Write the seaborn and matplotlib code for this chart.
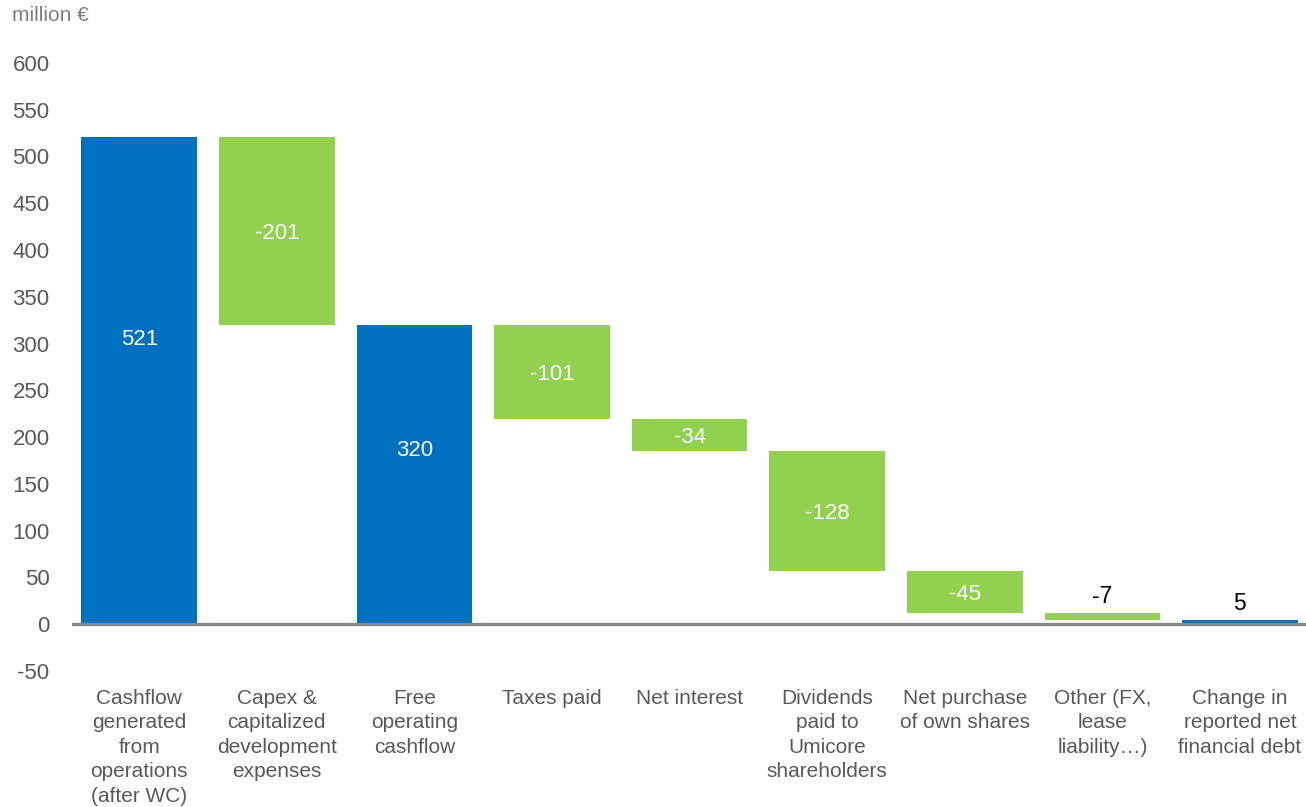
import matplotlib
matplotlib.use("Agg")
import matplotlib.pyplot as plt
import seaborn as sns
import numpy as np
import pandas as pd

categories = ["Cashflow\ngenerated\nfrom\noperations\n(after WC)",
              "Capex &\ncapitalized\ndevelopment\nexpenses",
              "Free\noperating\ncashflow",
              "Taxes paid",
              "Net interest",
              "Dividends\npaid to\nUmicore\nshareholders",
              "Net purchase\nof own shares",
              "Other (FX,\nlease\nliability\u2026)",
              "Change in\nreported net\nfinancial debt"]
values = [521, -201, 320, -101, -34, -128, -45, -7, 5]
kinds = ["total", "delta", "total", "delta", "delta", "delta", "delta", "delta", "total"]
labels = ["521", "-201", "320", "-101", "-34", "-128", "-45", "-7", "5"]
y_ticks = [-50, 0, 50, 100, 150, 200, 250, 300, 350, 400, 450, 500, 550, 600]

BLUE = "#0070C0"
GREEN = "#92D050"
GRAY = "#595959"

# waterfall bottoms
bottoms = []
running = 0
for v, k in zip(values, kinds):
    if k == "total":
        bottoms.append(0)
        running = v
    else:
        running = running + v
        bottoms.append(running)
heights = [abs(v) for v in values]

df = pd.DataFrame({"cat": categories, "h": heights, "kind": kinds})

sns.set_theme(style="white")
plt.rcParams["font.family"] = ["Liberation Sans", "DejaVu Sans"]

fig = plt.figure(figsize=(13.06, 8.07), dpi=100)
ax = fig.add_axes([0.055, 0.1685, 0.945, 0.7535])

sns.barplot(data=df, x="cat", y="h", hue="kind", palette={"total": BLUE, "delta": GREEN},
            dodge=False, legend=False, width=0.84, ax=ax, saturation=1, linewidth=0)

for p in ax.patches:
    idx = int(round(p.get_x() + p.get_width() / 2))
    p.set_y(bottoms[idx])

for i, (b, h, k, lab) in enumerate(zip(bottoms, heights, kinds, labels)):
    if h < 15:
        ax.text(i, b + h + 20, lab, ha="center", va="center_baseline", fontsize=16.5, color="black")
    elif k == "total":
        ax.text(i, b + h * 0.59, lab, ha="center", va="center_baseline", fontsize=16, color="white")
    else:
        ax.text(i, b + h / 2, lab, ha="center", va="center_baseline", fontsize=16, color="white")

ax.axhline(0, color="#898989", lw=2.4, zorder=5)
ax.set_xlim(-0.49, 8.48)
ax.set_ylim(-50, 600)
ax.set_yticks(y_ticks)
ax.set_yticklabels([str(t) for t in y_ticks])
ax.tick_params(axis="y", length=0, pad=16, labelsize=16, labelcolor=GRAY)
ax.tick_params(axis="x", length=0, pad=13, labelsize=15, labelcolor=GRAY)
for lab in ax.get_xticklabels():
    lab.set_linespacing(1.36)
ax.set_xlabel("")
ax.set_ylabel("")
sns.despine(ax=ax, left=True, bottom=True)

fig.text(0.009, 0.981, "million \u20ac", ha="left", va="center", fontsize=15, color="#7f7f7f")

fig.savefig("out.png", dpi=100)
